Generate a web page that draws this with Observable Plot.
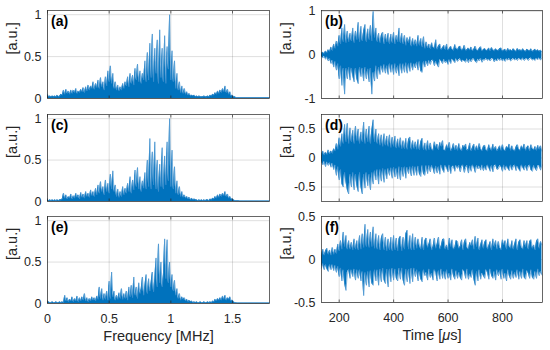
<!DOCTYPE html>
<html><head><meta charset="utf-8">
<script src="https://cdn.jsdelivr.net/npm/d3@7"></script>
<script src="https://cdn.jsdelivr.net/npm/@observablehq/plot@0.6"></script>
<style>
body{margin:0;background:#fff;}
#chart{position:relative;width:550px;height:350px;overflow:hidden;font-family:"Liberation Sans",Arial,Helvetica,sans-serif;}
#chart > div{position:absolute;}
</style></head><body><div id="chart"></div>
<script>
// ---------- spectra (0 .. 1.8 MHz, step 0.01 MHz) ----------
const freqStep = 0.01;
const specA = [
0.05,0.02,0.03,0.02,0.03,0.02,0.03,0.02,0.04,0.02,
0.03,0.05,0.04,0.10,0.05,0.11,0.06,0.09,0.05,0.10,
0.06,0.10,0.07,0.12,0.06,0.09,0.07,0.11,0.08,0.13,
0.07,0.14,0.09,0.16,0.10,0.15,0.12,0.20,0.11,0.18,
0.13,0.22,0.12,0.25,0.14,0.20,0.10,0.26,0.15,0.33,
0.20,0.39,0.18,0.30,0.12,0.20,0.10,0.16,0.09,0.14,
0.10,0.18,0.12,0.20,0.15,0.26,0.14,0.30,0.18,0.28,
0.16,0.36,0.22,0.41,0.20,0.33,0.18,0.30,0.22,0.45,
0.20,0.55,0.22,0.66,0.25,0.77,0.20,0.60,0.30,0.70,
0.18,0.82,0.25,0.60,0.20,0.75,0.18,0.62,0.35,1.00,
0.22,0.57,0.20,0.45,0.12,0.30,0.10,0.20,0.07,0.15,
0.06,0.12,0.05,0.08,0.04,0.06,0.03,0.04,0.03,0.04,
0.02,0.03,0.02,0.03,0.02,0.02,0.02,0.03,0.02,0.02,
0.03,0.02,0.04,0.03,0.05,0.04,0.07,0.05,0.09,0.06,
0.10,0.07,0.12,0.08,0.15,0.07,0.11,0.05,0.08,0.03,
0.04,0.02,0.02,0.01,0.01,0.01,0.01,0.01,0.01,0.01,
0.01,0.01,0.01,0.01,0.01,0.01,0.01,0.01,0.01,0.01,
0.01,0.01,0.01,0.01,0.01,0.01,0.01,0.01,0.01,0.01,
0.01];
const specC = [
0.02,0.01,0.02,0.01,0.02,0.01,0.02,0.01,0.02,0.01,
0.02,0.02,0.03,0.10,0.04,0.08,0.03,0.06,0.04,0.09,
0.03,0.07,0.04,0.10,0.05,0.08,0.03,0.11,0.05,0.09,
0.04,0.12,0.06,0.10,0.05,0.14,0.07,0.12,0.06,0.16,
0.08,0.20,0.10,0.24,0.12,0.18,0.08,0.26,0.12,0.22,
0.10,0.33,0.15,0.37,0.12,0.20,0.06,0.15,0.05,0.12,
0.06,0.18,0.08,0.16,0.10,0.22,0.12,0.30,0.10,0.26,
0.14,0.38,0.18,0.41,0.15,0.30,0.12,0.25,0.16,0.35,
0.15,0.50,0.18,0.76,0.15,0.60,0.20,0.72,0.15,0.50,
0.12,0.45,0.18,0.65,0.15,0.55,0.20,0.72,0.25,1.00,
0.18,0.62,0.15,0.42,0.10,0.25,0.08,0.18,0.06,0.12,
0.05,0.08,0.04,0.06,0.03,0.05,0.02,0.04,0.02,0.03,
0.02,0.02,0.01,0.02,0.01,0.02,0.01,0.02,0.01,0.02,
0.02,0.01,0.03,0.02,0.04,0.03,0.06,0.04,0.08,0.05,
0.09,0.06,0.10,0.07,0.12,0.06,0.09,0.04,0.06,0.03,
0.03,0.02,0.01,0.01,0.01,0.01,0.005,0.005,0.005,0.005,
0.005,0.005,0.005,0.005,0.005,0.005,0.005,0.005,0.005,0.005,
0.005,0.005,0.005,0.005,0.005,0.005,0.005,0.005,0.005,0.005,
0.005];
const specE = [
0.01,0.02,0.01,0.01,0.02,0.01,0.01,0.02,0.01,0.01,
0.02,0.01,0.02,0.01,0.10,0.03,0.07,0.02,0.05,0.03,
0.08,0.02,0.06,0.03,0.09,0.02,0.07,0.03,0.08,0.04,
0.12,0.03,0.07,0.02,0.06,0.03,0.08,0.04,0.07,0.03,
0.09,0.05,0.20,0.06,0.18,0.04,0.12,0.05,0.15,0.04,
0.27,0.06,0.38,0.08,0.15,0.04,0.10,0.05,0.13,0.06,
0.18,0.05,0.12,0.06,0.15,0.04,0.20,0.08,0.22,0.07,
0.32,0.10,0.20,0.06,0.25,0.12,0.18,0.32,0.10,0.22,
0.35,0.12,0.30,0.15,0.25,0.38,0.14,0.30,0.55,0.20,
0.72,0.25,0.50,0.20,0.35,0.78,0.30,0.77,0.25,0.50,
0.20,0.35,0.15,0.28,0.10,0.18,0.06,0.12,0.04,0.08,
0.05,0.07,0.03,0.05,0.02,0.04,0.02,0.03,0.01,0.02,
0.01,0.02,0.01,0.01,0.02,0.01,0.01,0.02,0.01,0.01,
0.02,0.01,0.02,0.01,0.03,0.02,0.05,0.03,0.06,0.04,
0.07,0.04,0.09,0.05,0.10,0.04,0.07,0.05,0.08,0.03,
0.04,0.02,0.01,0.01,0.005,0.005,0.005,0.005,0.005,0.005,
0.005,0.005,0.005,0.005,0.005,0.005,0.005,0.005,0.005,0.005,
0.005,0.005,0.005,0.005,0.005,0.005,0.005,0.005,0.005,0.005,
0.005];

// ---------- time signals: upper / lower envelope, 135 .. 945 us, step 5 us ----------
const timeStart = 135, timeStep = 5;
const bMax = [
0.04,0.06,0.03,0.09,0.05,0.12,0.08,0.18,0.10,0.25,
0.15,0.32,0.20,0.45,0.25,0.62,0.30,0.70,0.28,0.55,
0.30,0.50,0.32,0.62,0.28,0.55,0.35,0.75,0.30,0.66,
0.32,0.55,0.70,0.30,0.60,0.35,0.68,0.32,1.00,0.40,
0.62,0.30,0.50,0.28,0.45,0.52,0.25,0.48,0.30,0.50,
0.25,0.48,0.28,0.52,0.25,0.45,0.30,0.62,0.28,0.50,
0.25,0.45,0.22,0.40,0.28,0.42,0.20,0.38,0.22,0.35,
0.20,0.45,0.22,0.38,0.18,0.42,0.15,0.30,0.16,0.25,
0.14,0.28,0.18,0.15,0.35,0.13,0.20,0.25,0.12,0.16,
0.22,0.12,0.25,0.11,0.14,0.20,0.13,0.10,0.24,0.15,
0.12,0.18,0.20,0.11,0.13,0.22,0.10,0.12,0.16,0.11,
0.18,0.09,0.13,0.20,0.11,0.10,0.15,0.19,0.09,0.12,
0.15,0.10,0.11,0.16,0.09,0.17,0.12,0.09,0.14,0.11,
0.10,0.14,0.16,0.09,0.11,0.13,0.08,0.15,0.10,0.12,
0.09,0.14,0.11,0.08,0.15,0.10,0.12,0.09,0.14,0.10,
0.08,0.13,0.11,0.09,0.14,0.08,0.10,0.13,0.09,0.12,
0.08,0.11,0.07];
const bMin = [
-0.04,-0.07,-0.03,-0.10,-0.05,-0.14,-0.08,-0.20,-0.12,-0.28,
-0.15,-0.35,-0.20,-0.55,-0.25,-0.70,-0.30,-0.90,-0.30,-0.55,
-0.28,-0.58,-0.30,-0.48,-0.62,-0.30,-0.55,-0.66,-0.28,-0.50,
-0.30,-0.60,-0.28,-0.55,-0.32,-0.62,-0.30,-0.90,-0.40,-0.60,
-0.25,-0.55,-0.28,-0.45,-0.25,-0.40,-0.22,-0.42,-0.25,-0.45,
-0.20,-0.40,-0.22,-0.45,-0.20,-0.42,-0.25,-0.48,-0.20,-0.42,
-0.20,-0.40,-0.18,-0.42,-0.20,-0.38,-0.18,-0.35,-0.20,-0.30,
-0.16,-0.35,-0.15,-0.38,-0.40,-0.15,-0.28,-0.14,-0.25,-0.13,
-0.22,-0.13,-0.12,-0.25,-0.15,-0.22,-0.28,-0.11,-0.14,-0.20,
-0.10,-0.18,-0.14,-0.22,-0.11,-0.20,-0.10,-0.13,-0.18,-0.09,
-0.15,-0.11,-0.09,-0.16,-0.12,-0.14,-0.17,-0.09,-0.18,-0.10,
-0.16,-0.10,-0.09,-0.15,-0.18,-0.10,-0.14,-0.08,-0.17,-0.11,
-0.12,-0.08,-0.13,-0.10,-0.14,-0.09,-0.08,-0.16,-0.11,-0.14,
-0.09,-0.13,-0.08,-0.14,-0.10,-0.15,-0.09,-0.12,-0.08,-0.14,
-0.11,-0.08,-0.12,-0.09,-0.13,-0.08,-0.10,-0.12,-0.07,-0.13,
-0.10,-0.08,-0.13,-0.09,-0.07,-0.12,-0.10,-0.13,-0.08,-0.11,
-0.07,-0.12,-0.06];
const dMax = [
0.06,0.12,0.05,0.10,0.06,0.14,0.07,0.12,0.08,0.16,
0.12,0.25,0.15,0.35,0.20,0.42,0.25,0.58,0.28,0.60,
0.25,0.52,0.28,0.48,0.25,0.55,0.30,0.50,0.25,0.45,
0.28,0.62,0.25,0.50,0.28,0.55,0.25,0.48,0.66,0.28,
0.50,0.25,0.42,0.22,0.40,0.20,0.42,0.22,0.38,0.20,
0.40,0.18,0.36,0.20,0.38,0.17,0.33,0.18,0.35,0.16,
0.30,0.16,0.34,0.15,0.32,0.36,0.15,0.30,0.16,0.28,
0.15,0.32,0.14,0.28,0.34,0.14,0.26,0.13,0.30,0.14,
0.26,0.15,0.13,0.28,0.18,0.24,0.14,0.27,0.20,0.30,
0.14,0.13,0.23,0.17,0.27,0.12,0.16,0.25,0.14,0.22,
0.13,0.25,0.16,0.12,0.22,0.18,0.24,0.13,0.15,0.26,
0.12,0.18,0.24,0.13,0.21,0.14,0.25,0.16,0.12,0.20,
0.22,0.14,0.12,0.23,0.17,0.13,0.24,0.15,0.20,0.12,
0.16,0.21,0.13,0.23,0.15,0.12,0.20,0.17,0.24,0.13,
0.21,0.14,0.12,0.19,0.23,0.15,0.13,0.21,0.16,0.24,
0.13,0.18,0.21,0.12,0.23,0.16,0.14,0.20,0.13,0.22,
0.15,0.21,0.12];
const dMin = [
-0.06,-0.12,-0.06,-0.15,-0.07,-0.13,-0.08,-0.16,-0.09,-0.20,
-0.12,-0.30,-0.15,-0.38,-0.20,-0.45,-0.50,-0.25,-0.42,-0.55,
-0.62,-0.28,-0.50,-0.25,-0.55,-0.28,-0.48,-0.58,-0.25,-0.50,
-0.62,-0.28,-0.52,-0.25,-0.48,-0.28,-0.55,-0.25,-0.45,-0.22,
-0.38,-0.20,-0.45,-0.20,-0.40,-0.18,-0.42,-0.20,-0.36,-0.18,
-0.30,-0.17,-0.35,-0.16,-0.33,-0.18,-0.36,-0.15,-0.38,-0.16,
-0.32,-0.15,-0.35,-0.16,-0.27,-0.15,-0.31,-0.14,-0.30,-0.15,
-0.30,-0.14,-0.28,-0.32,-0.13,-0.28,-0.30,-0.13,-0.27,-0.13,
-0.24,-0.13,-0.18,-0.27,-0.14,-0.26,-0.15,-0.28,-0.12,-0.20,
-0.25,-0.13,-0.17,-0.24,-0.12,-0.27,-0.16,-0.14,-0.23,-0.13,
-0.18,-0.13,-0.24,-0.15,-0.12,-0.25,-0.17,-0.13,-0.26,-0.14,
-0.23,-0.12,-0.16,-0.25,-0.13,-0.19,-0.14,-0.21,-0.12,-0.22,
-0.15,-0.21,-0.12,-0.17,-0.23,-0.13,-0.24,-0.14,-0.12,-0.20,
-0.19,-0.13,-0.15,-0.23,-0.12,-0.21,-0.14,-0.18,-0.22,-0.12,
-0.21,-0.15,-0.12,-0.22,-0.14,-0.19,-0.23,-0.12,-0.17,-0.21,
-0.13,-0.22,-0.15,-0.12,-0.21,-0.23,-0.13,-0.18,-0.22,-0.14,
-0.13,-0.21,-0.12];
const fMax = [
0.05,0.12,0.05,0.10,0.13,0.06,0.11,0.05,0.14,0.06,
0.12,0.07,0.18,0.10,0.22,0.12,0.32,0.15,0.28,0.12,
0.22,0.12,0.20,0.11,0.24,0.12,0.22,0.11,0.28,0.12,
0.30,0.14,0.41,0.15,0.35,0.14,0.32,0.15,0.38,0.13,
0.30,0.12,0.28,0.11,0.25,0.30,0.11,0.26,0.10,0.24,
0.11,0.26,0.10,0.28,0.11,0.25,0.10,0.24,0.27,0.10,
0.26,0.12,0.30,0.34,0.12,0.28,0.11,0.30,0.11,0.26,
0.13,0.24,0.16,0.12,0.26,0.11,0.22,0.25,0.14,0.18,
0.24,0.11,0.15,0.25,0.13,0.18,0.26,0.12,0.16,0.23,
0.24,0.12,0.17,0.11,0.25,0.15,0.23,0.12,0.14,0.22,
0.21,0.13,0.15,0.23,0.11,0.20,0.24,0.14,0.12,0.20,
0.16,0.23,0.12,0.27,0.15,0.25,0.11,0.17,0.23,0.13,
0.20,0.23,0.12,0.16,0.21,0.11,0.24,0.15,0.22,0.12,
0.21,0.14,0.11,0.23,0.17,0.22,0.12,0.24,0.15,0.13,
0.22,0.12,0.18,0.24,0.11,0.20,0.23,0.14,0.12,0.22,
0.15,0.22,0.12,0.21,0.23,0.13,0.17,0.11,0.21,0.24,
0.13,0.21,0.17];
const fMin = [
-0.10,-0.05,-0.12,-0.06,-0.11,-0.14,-0.06,-0.12,-0.06,-0.13,
-0.07,-0.15,-0.08,-0.20,-0.10,-0.25,-0.12,-0.28,-0.36,-0.15,
-0.12,-0.22,-0.12,-0.20,-0.11,-0.24,-0.12,-0.22,-0.12,-0.25,
-0.14,-0.42,-0.15,-0.30,-0.14,-0.32,-0.13,-0.28,-0.30,-0.12,
-0.25,-0.12,-0.30,-0.11,-0.26,-0.10,-0.24,-0.28,-0.11,-0.32,
-0.11,-0.26,-0.10,-0.24,-0.11,-0.22,-0.25,-0.10,-0.23,-0.10,
-0.24,-0.30,-0.11,-0.26,-0.11,-0.28,-0.10,-0.26,-0.10,-0.20,
-0.12,-0.25,-0.14,-0.23,-0.26,-0.12,-0.19,-0.15,-0.24,-0.11,
-0.21,-0.16,-0.24,-0.12,-0.15,-0.25,-0.13,-0.23,-0.11,-0.22,
-0.14,-0.23,-0.12,-0.22,-0.16,-0.24,-0.11,-0.19,-0.23,-0.13,
-0.22,-0.15,-0.21,-0.24,-0.12,-0.14,-0.22,-0.11,-0.23,-0.17,
-0.21,-0.12,-0.23,-0.30,-0.14,-0.25,-0.12,-0.23,-0.16,-0.19,
-0.22,-0.12,-0.15,-0.23,-0.11,-0.19,-0.22,-0.14,-0.24,-0.12,
-0.19,-0.13,-0.23,-0.11,-0.22,-0.16,-0.25,-0.12,-0.19,-0.23,
-0.13,-0.22,-0.15,-0.21,-0.12,-0.23,-0.14,-0.22,-0.11,-0.21,
-0.23,-0.13,-0.16,-0.22,-0.12,-0.21,-0.23,-0.14,-0.22,-0.11,
-0.19,-0.14,-0.18];

// ---------- axes / labels ----------
const freqTicks = [0, 0.5, 1, 1.5];
const timeTicks = [200, 400, 600, 800];
const specYTicks = [0, 0.5, 1];
const bYTicks = [-1, 0, 1];
const dYTicks = [-0.5, 0, 0.5];
const fYTicks = [-0.5, 0, 0.5];
const yLabel = "[a.u.]";
const freqLabel = "Frequency [MHz]";
const timeLabel = "Time [\u03bcs]";

const blue = "#0072BD";
const edgeBlue = "#3f8fcf";
const axisColor = "#262626";
const chart = document.getElementById("chart");
const fmt = d => String(d);

function place(svg, left, top) {
  const div = document.createElement("div");
  div.style.left = left + "px";
  div.style.top = top + "px";
  div.appendChild(svg);
  chart.appendChild(div);
}

function commonMarks(xTicks, yTicks, label, bottom, xLab) {
  const m = [
    Plot.frame({stroke: axisColor, strokeWidth: 0.7}),
    Plot.axisX(xTicks, {tickSize: -2.5, tickFormat: () => "", label: null, stroke: axisColor, strokeWidth: 0.7}),
    Plot.axisX(xTicks, {anchor: "top", tickSize: -2.5, tickFormat: () => "", label: null, stroke: axisColor, strokeWidth: 0.7}),
    Plot.axisY(yTicks, {tickSize: 0, tickPadding: 6, tickFormat: fmt, label: null, fill: axisColor}),
    Plot.text([yLabel], {text: d => d, frameAnchor: "left", dx: -35, rotate: -90, fontSize: 14.5, fill: axisColor}),
    Plot.text([label], {text: d => d, frameAnchor: "top-left", textAnchor: "start", lineAnchor: "top", dx: 3.5, dy: 6, fontSize: 14, fontWeight: "bold", fill: "#000"})
  ];
  if (bottom) {
    m.push(Plot.axisX(xTicks, {tickSize: 0, tickPadding: 11, tickFormat: fmt, label: null, fill: axisColor}));
    m.push(Plot.text([xLab], {text: d => d, frameAnchor: "bottom", dy: 37, fontSize: 14.5, fill: axisColor}));
  }
  return m;
}

function specPanel(values, label, frameTop, frameH, bottom) {
  const data = values.map((v, i) => ({f: i * freqStep, v}));
  const mb = bottom ? 47 : 4;
  const svg = Plot.plot({
    width: 275, height: 10 + frameH + mb,
    marginLeft: 47, marginRight: 6, marginTop: 10, marginBottom: mb,
    style: {fontFamily: "Liberation Sans, Arial, sans-serif", fontSize: "12.5px", color: axisColor, background: "transparent", overflow: "visible"},
    x: {domain: [0, 1.8], axis: null},
    y: {domain: [0, 1.05], axis: null},
    marks: [
      Plot.gridX(freqTicks, {stroke: axisColor, strokeOpacity: 0.15}),
      Plot.gridY(specYTicks, {stroke: axisColor, strokeOpacity: 0.15}),
      Plot.areaY(data, {x: "f", y: "v", fill: blue}),
      Plot.lineY(data, {x: "f", y: "v", stroke: edgeBlue, strokeWidth: 0.7}),
      ...commonMarks(freqTicks, specYTicks, label, bottom, freqLabel)
    ]
  });
  place(svg, 0, frameTop - 10);
}

function italicMu(svg) {
  svg.querySelectorAll("text").forEach(t => {
    if (t.textContent === timeLabel) {
      const parts = timeLabel.split("\u03bc");
      t.textContent = "";
      const ns = "http://www.w3.org/2000/svg";
      const a = document.createElementNS(ns, "tspan"); a.textContent = parts[0];
      const m = document.createElementNS(ns, "tspan"); m.textContent = "\u03bc"; m.setAttribute("font-style", "italic");
      const b = document.createElementNS(ns, "tspan"); b.textContent = parts[1];
      t.append(a, m, b);
    }
  });
}

function timePanel(hiArr, loArr, yDomain, yTicks, label, frameTop, frameH, bottom) {
  const data = hiArr.map((hi, i) => ({t: timeStart + i * timeStep, hi, lo: loArr[i]}));
  const mb = bottom ? 48 : 4;
  const svg = Plot.plot({
    width: 275, height: 10 + frameH + mb,
    marginLeft: 46, marginRight: 8, marginTop: 10, marginBottom: mb,
    style: {fontFamily: "Liberation Sans, Arial, sans-serif", fontSize: "12.5px", color: axisColor, background: "transparent", overflow: "visible"},
    x: {domain: [135, 947], axis: null},
    y: {domain: yDomain, axis: null},
    marks: [
      Plot.gridX(timeTicks, {stroke: axisColor, strokeOpacity: 0.15}),
      Plot.gridY(yTicks, {stroke: axisColor, strokeOpacity: 0.15}),
      Plot.areaY(data, {x: "t", y1: "lo", y2: "hi", fill: blue}),
      Plot.lineY(data, {x: "t", y: "hi", stroke: edgeBlue, strokeWidth: 0.7}),
      Plot.lineY(data, {x: "t", y: "lo", stroke: edgeBlue, strokeWidth: 0.7}),
      ...commonMarks(timeTicks, yTicks, label, bottom, timeLabel)
    ]
  });
  if (bottom) italicMu(svg);
  place(svg, 275, frameTop - 10);
}

specPanel(specA, "(a)", 10, 88, false);
specPanel(specC, "(c)", 114, 87, false);
specPanel(specE, "(e)", 216, 87, true);
timePanel(bMax, bMin, [-1, 1.02], bYTicks, "(b)", 10, 88, false);
timePanel(dMax, dMin, [-0.75, 0.75], dYTicks, "(d)", 114, 87, false);
timePanel(fMax, fMin, [-0.5, 0.5], fYTicks, "(f)", 216, 86, true);
</script></body></html>
